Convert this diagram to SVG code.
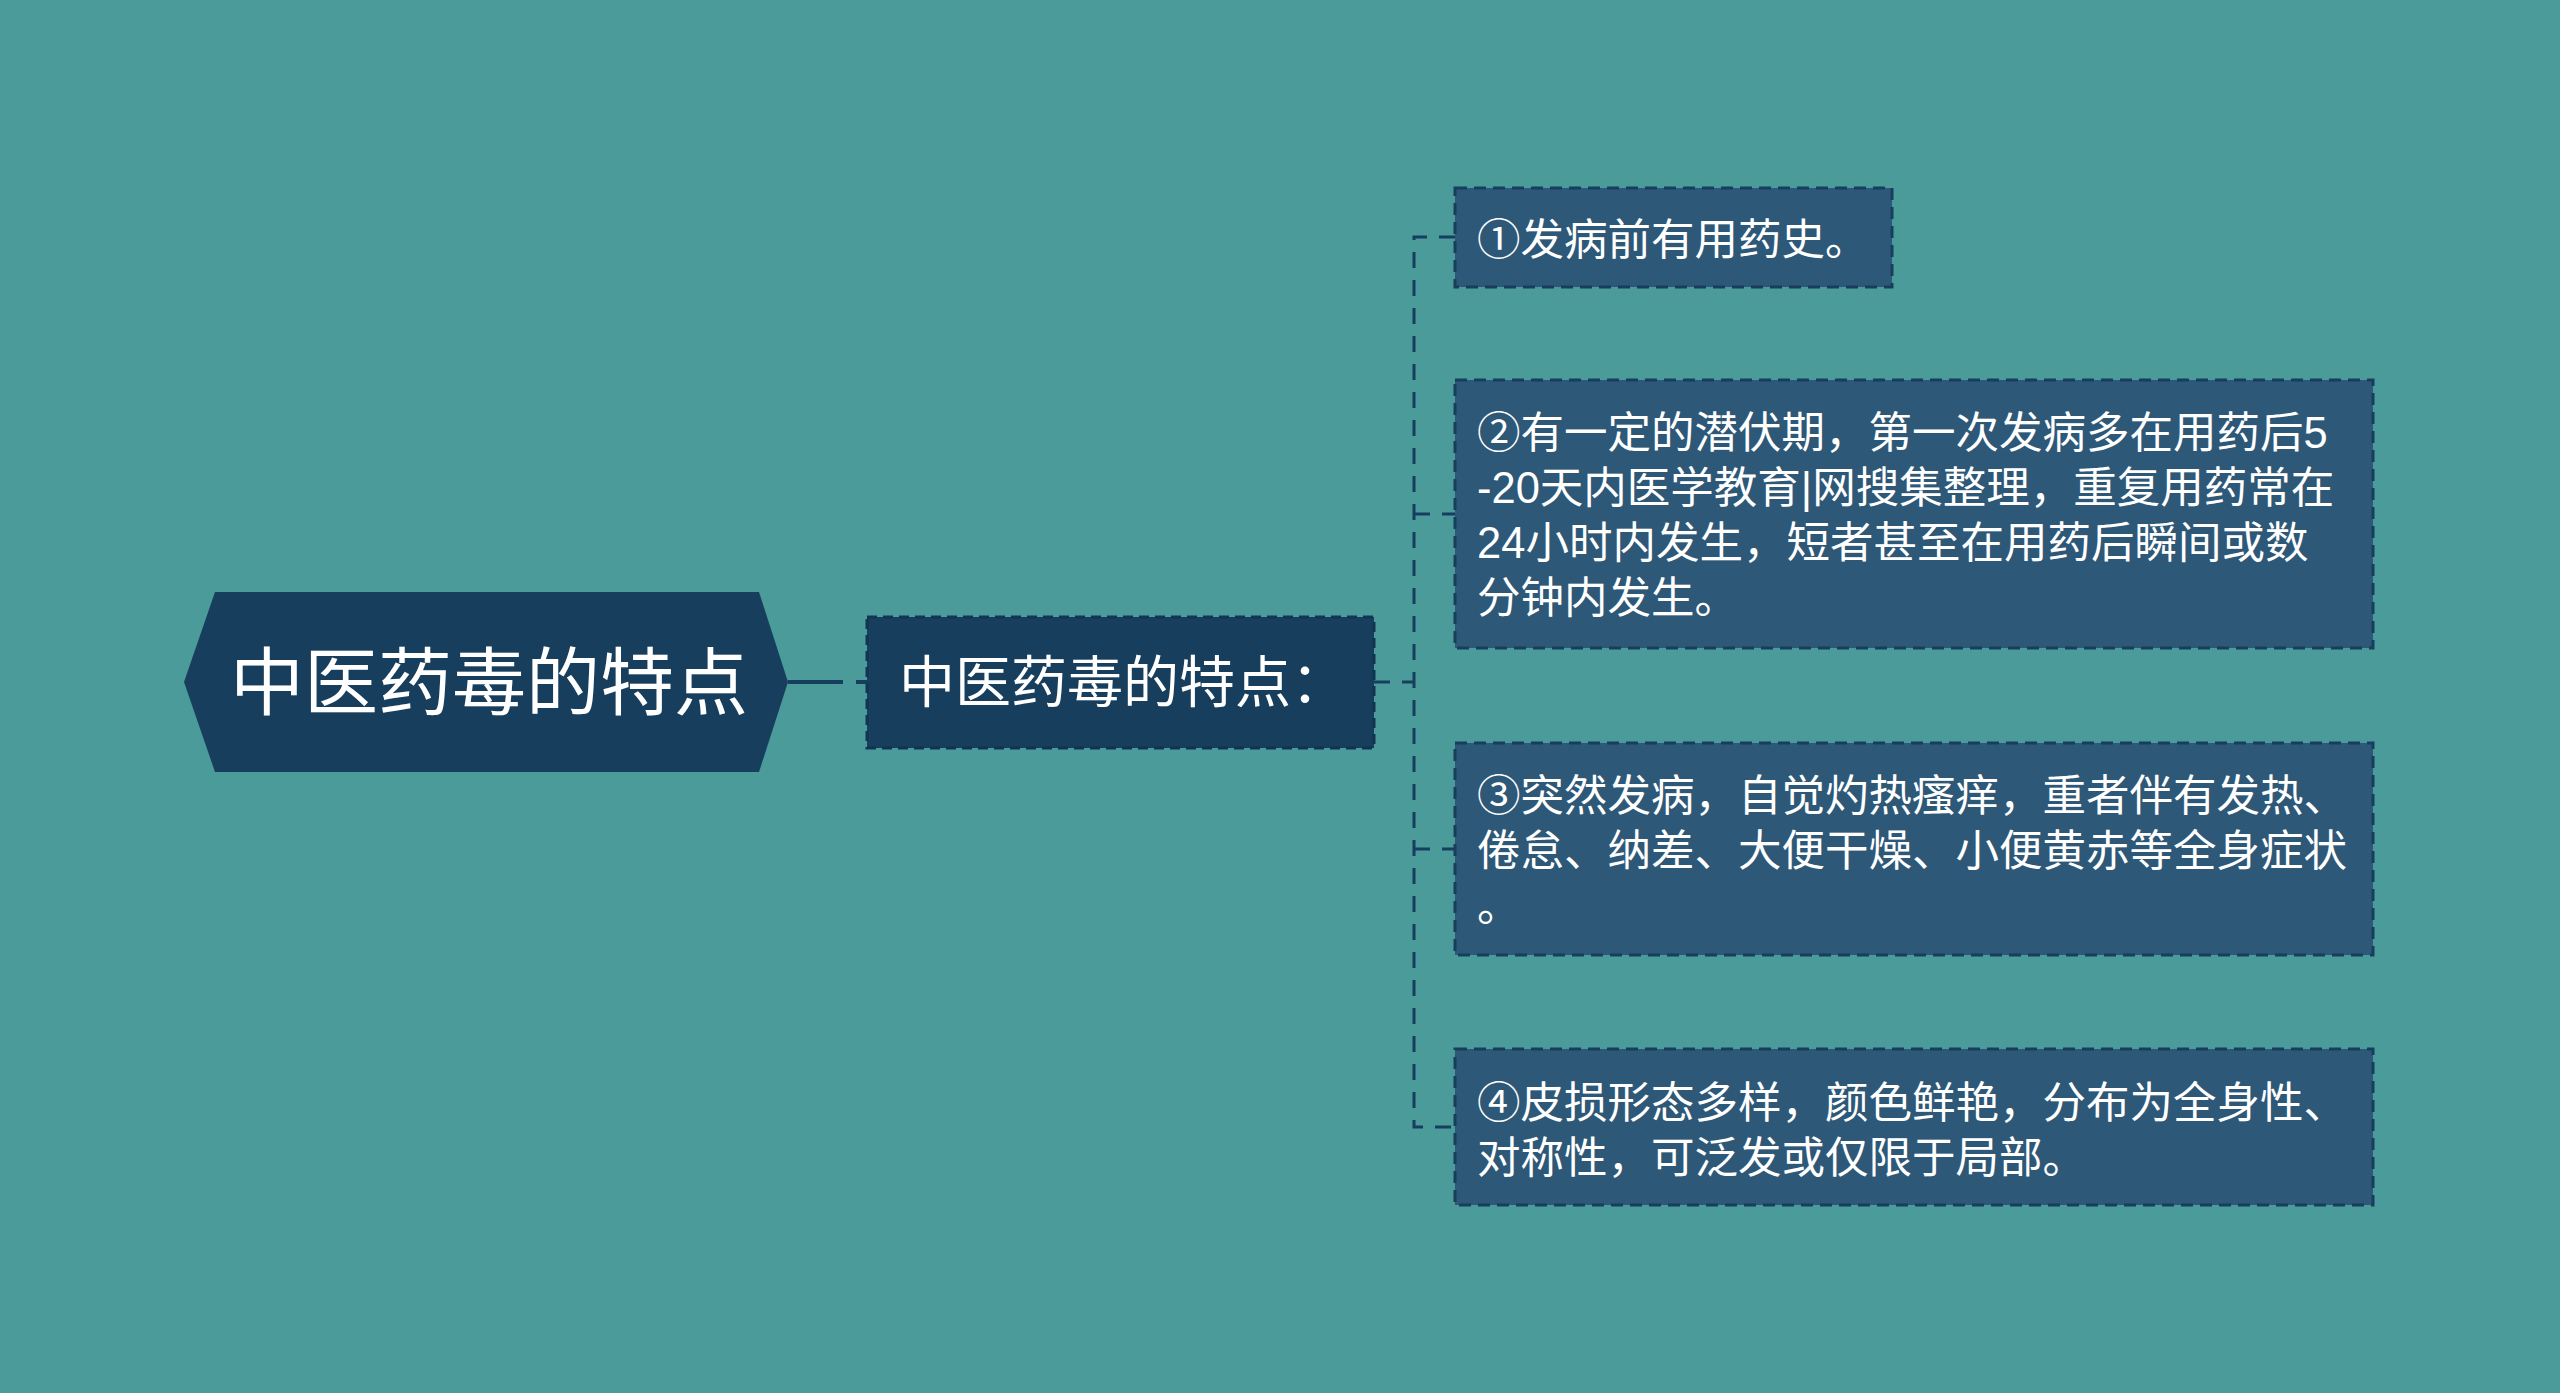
<svg xmlns="http://www.w3.org/2000/svg" width="2560" height="1393" viewBox="0 0 2560 1393">
<style>
.bg{fill:#4b9b9b}
.root{fill:#173e5d}
.mid{fill:#173e5d;stroke:#123452;stroke-width:3;stroke-dasharray:10 6}
.leaf{fill:#2e5877;stroke:#173e5d;stroke-width:3;stroke-dasharray:12 7}
.conn{fill:none;stroke:#173e5d;stroke-width:3;stroke-dasharray:16 12}
.t{fill:#ffffff;font-family:"Noto Sans CJK SC","Noto Sans",sans-serif}
.tl{fill:#ffffff;font-family:"Liberation Sans","Noto Sans CJK SC",sans-serif;font-size:43.5px}
.tr{font-size:74px}
.tm{font-size:56px}
</style>
<rect class="bg" x="0" y="0" width="2560" height="1393"/>
<g id="connectors">
<line x1="788" y1="682" x2="843" y2="682" stroke="#173e5d" stroke-width="4"/>
<line x1="856" y1="682" x2="867" y2="682" stroke="#173e5d" stroke-width="4"/>
<path class="conn" d="M1374,682 H1414"/>
<path class="conn" d="M1455,237 H1414 V1127 H1455"/>
<path class="conn" d="M1414,514 H1455"/>
<path class="conn" d="M1414,849 H1455"/>
</g>
<g id="root">
<polygon class="root" points="215,592 759,592 788,682 759,772 215,772 184,682"/>
<text class="t tr" x="489" y="709" text-anchor="middle">中医药毒的特点</text>
</g>
<g id="mid">
<rect class="mid" x="867" y="617" width="507" height="131"/>
<text class="t tm" x="899" y="702">中医药毒的特点：</text>
</g>
<g id="leaf1">
<rect class="leaf" x="1455" y="188" width="437" height="99"/>
<text class="tl" x="1477" y="255">①发病前有用药史。</text>
</g>
<g id="leaf2">
<rect class="leaf" x="1455" y="380" width="918" height="268"/>
<text class="tl" x="1477" y="448"><tspan x="1477" y="448">②有一定的潜伏期，第一次发病多在用药后5</tspan><tspan x="1477" y="503">-20天内医学教育|网搜集整理，重复用药常在</tspan><tspan x="1477" y="558">24小时内发生，短者甚至在用药后瞬间或数</tspan><tspan x="1477" y="613">分钟内发生。</tspan></text>
</g>
<g id="leaf3">
<rect class="leaf" x="1455" y="743" width="918" height="212"/>
<text class="tl" x="1477" y="811"><tspan x="1477" y="811">③突然发病，自觉灼热瘙痒，重者伴有发热、</tspan><tspan x="1477" y="866">倦怠、纳差、大便干燥、小便黄赤等全身症状</tspan><tspan x="1477" y="921">。</tspan></text>
</g>
<g id="leaf4">
<rect class="leaf" x="1455" y="1049" width="918" height="156"/>
<text class="tl" x="1477" y="1118"><tspan x="1477" y="1118">④皮损形态多样，颜色鲜艳，分布为全身性、</tspan><tspan x="1477" y="1173">对称性，可泛发或仅限于局部。</tspan></text>
</g>
</svg>
